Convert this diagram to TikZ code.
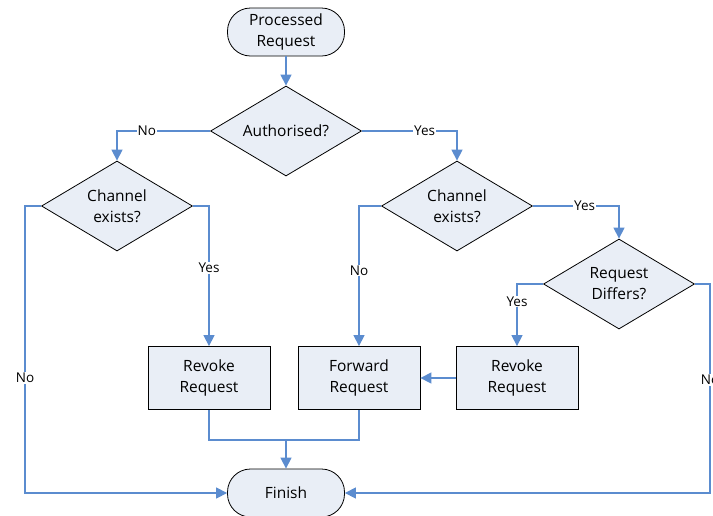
\documentclass[tikz,border=0pt]{standalone}
\usepackage{fontspec}
\setmainfont{Open Sans}
\usetikzlibrary{shapes.geometric,arrows.meta}
\definecolor{lineblue}{HTML}{5B8CCF}
\definecolor{boxfill}{HTML}{E9EEF6}
\tikzset{
  base/.style={draw=black,line width=0.8pt,fill=boxfill,align=center,font=\fontsize{15.5}{21}\selectfont,inner sep=0pt},
  term/.style={base,rectangle,rounded corners=23pt,minimum width=117pt,minimum height=48pt},
  dec/.style={base,diamond,inner sep=-14pt,minimum width=151pt,minimum height=90pt},
  proc/.style={base,rectangle,minimum width=122pt,minimum height=63pt},
  conn/.style={draw=lineblue,line width=1.3pt},
  arr/.style={conn,-{Triangle[length=11pt,width=11pt]}},
  lbl/.style={fill=white,inner sep=1pt,font=\fontsize{13.5}{15}\selectfont}
}
\begin{document}
\begin{tikzpicture}[x=1pt,y=-1pt]
\useasboundingbox (0,0) rectangle (713,515);
\node[term] (start) at (286,32) {Processed\\Request};
\node[dec] (auth) at (286,131) {Authorised?};
\node[dec] (ch1) at (117,206) {Channel\\exists?};
\node[dec] (ch2) at (457,206) {Channel\\exists?};
\node[dec] (diff) at (619,284) {Request\\Differs?};
\node[proc] (rev1) at (209,378) {Revoke\\Request};
\node[proc] (fwd) at (359,378) {Forward\\Request};
\node[proc] (rev2) at (517,378) {Revoke\\Request};
\node[term] (fin) at (286,493) {Finish};
\coordinate (j) at (286,440);
\coordinate (lc) at (25,206);
\coordinate (rc) at (710,284);

\draw[arr] (start) -- (auth);
\draw[arr] (auth.west) -| node[lbl,pos=0.34]{No} (ch1.north);
\draw[arr] (auth.east) -| node[lbl,pos=0.33]{Yes} (ch2.north);
\draw[arr] (ch1.west) -- (lc) |- node[lbl,pos=0.3]{No} (fin.west);
\draw[arr] (ch1.east) -| node[lbl,pos=0.72]{Yes} (rev1.north);
\draw[arr] (ch2.west) -| node[lbl,pos=0.73]{No} (fwd.north);
\draw[arr] (ch2.east) -| node[lbl,pos=0.3]{Yes} (diff.north);
\draw[arr] (diff.west) -| node[lbl,pos=0.64]{Yes} (rev2.north);
\draw[arr] (diff.east) -- (rc) |- node[lbl,pos=0.23]{No} (fin.east);
\draw[arr] (rev2.west) -- (fwd.east);
\draw[conn] (rev1.south) |- (j);
\draw[conn] (fwd.south) |- (j);
\draw[arr] (j) -- (fin.north);
\end{tikzpicture}
\end{document}
